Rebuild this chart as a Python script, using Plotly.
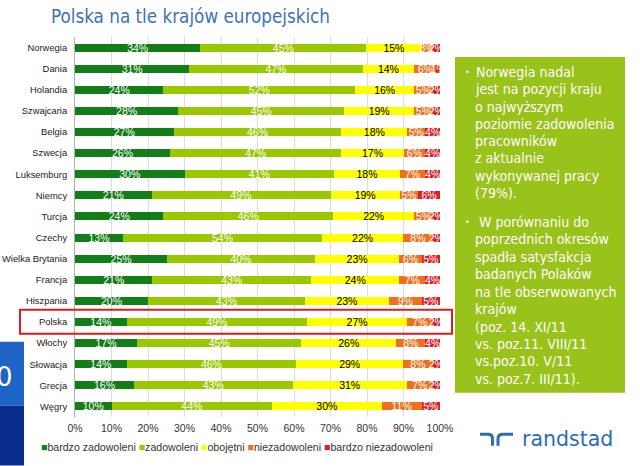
import plotly.graph_objects as go

countries = ["Norwegia", "Dania", "Holandia", "Szwajcaria", "Belgia", "Szwecja",
             "Luksemburg", "Niemcy", "Turcja", "Czechy", "Wielka Brytania", "Francja",
             "Hiszpania", "Polska", "Włochy", "Słowacja", "Grecja", "Węgry"]
bardzo_zadowoleni = [34, 31, 24, 28, 27, 26, 30, 21, 24, 13, 25, 21, 20, 14, 17, 14, 16, 10]
zadowoleni = [45, 47, 52, 45, 46, 47, 41, 49, 46, 54, 40, 43, 43, 49, 45, 46, 43, 44]
obojetni = [15, 14, 16, 19, 18, 17, 18, 19, 22, 22, 23, 24, 23, 27, 26, 29, 31, 30]
niezadowoleni = [3, 6, 5, 5, 5, 6, 7, 5, 5, 8, 6, 7, 9, 7, 8, 8, 7, 11]
bardzo_niezadowoleni = [2, 1, 2, 2, 4, 4, 4, 6, 2, 2, 5, 4, 5, 2, 4, 2, 2, 5]

series = [
    ("bardzo zadowoleni", bardzo_zadowoleni, "#137d17", "white"),
    ("zadowoleni", zadowoleni, "#99c800", "white"),
    ("obojętni", obojetni, "#ffff00", "black"),
    ("niezadowoleni", niezadowoleni, "#f0701e", "white"),
    ("bardzo niezadowoleni", bardzo_niezadowoleni, "#dc1e28", "white"),
]

W, H = 640, 466
L, R, T, B = 75, 440, 36.7, 417.3
SANS = "Liberation Sans, Arial"
COND = "DejaVu Sans Condensed, DejaVu Sans"

def px(x):
    return (x - L) / (R - L)

def py(y):
    return (B - y) / (B - T)

fig = go.Figure()
for name, vals, color, tcol in series:
    fig.add_trace(go.Bar(
        y=countries, x=vals, name=name, orientation="h",
        marker=dict(color=color, line=dict(width=0)),
        text=[f"{v}%" for v in vals], textposition="inside",
        insidetextanchor="middle", textangle=0,
        insidetextfont=dict(color=tcol, size=10.5, family=SANS),
        showlegend=False,
    ))

fig.update_layout(
    barmode="stack", barnorm="percent", bargap=0.62,
    width=W, height=H,
    margin=dict(l=L, r=W - R, t=T, b=H - B, pad=0),
    paper_bgcolor="white", plot_bgcolor="white",
    uniformtext=dict(minsize=10.5, mode="show"),
    font=dict(family=SANS, size=10, color="#222"),
)
fig.update_xaxes(range=[0, 100], tickvals=list(range(0, 101, 10)),
                 ticktext=[f"{v}%" for v in range(0, 101, 10)],
                 showgrid=True, gridcolor="#dcdcdc", gridwidth=1,
                 zeroline=False, showline=False, ticks="", automargin=False,
                 ticklabelstandoff=3,
                 tickfont=dict(size=10.5, color="#333", family=SANS))
fig.update_yaxes(autorange="reversed", showgrid=False, showline=True,
                 linecolor="#b0b0b0", linewidth=1, ticks="", ticklabelstandoff=5,
                 automargin=False,
                 tickfont=dict(size=9.4, color="#222", family=SANS))

shapes = []
# left blue panel
shapes.append(dict(type="rect", xref="paper", yref="paper", x0=px(0), x1=px(24),
                   y0=py(406), y1=py(342), fillcolor="#1f63c6", line=dict(width=0), layer="above"))
shapes.append(dict(type="rect", xref="paper", yref="paper", x0=px(0), x1=px(24),
                   y0=py(466), y1=py(406), fillcolor="#0a2c8e", line=dict(width=0), layer="above"))
# highlight Polska
shapes.append(dict(type="rect", xref="paper", yref="paper", x0=px(20), x1=px(452),
                   y0=py(334), y1=py(310), fillcolor="rgba(0,0,0,0)",
                   line=dict(color="#d42020", width=2), layer="above"))
# green text box
shapes.append(dict(type="rect", xref="paper", yref="paper", x0=px(455), x1=px(625),
                   y0=py(393), y1=py(56.7), fillcolor="#99c21a", line=dict(width=0), layer="above"))
# randstad logo symbol
shapes.append(dict(type="path", xref="paper", yref="paper",
                   path=f"M{px(480)},{py(434.5)} L{px(488)},{py(434.5)} Q{px(492.5)},{py(434.5)} {px(492.5)},{py(439)} L{px(492.5)},{py(446)}",
                   line=dict(color="#2a6db3", width=3), layer="above"))
shapes.append(dict(type="path", xref="paper", yref="paper",
                   path=f"M{px(513)},{py(434.5)} L{px(503)},{py(434.5)} Q{px(498)},{py(434.5)} {px(498)},{py(439)} L{px(498)},{py(446)}",
                   line=dict(color="#2a6db3", width=3), layer="above"))
fig.update_layout(shapes=shapes)

ann = []
ann.append(dict(text="Polska na tle krajów europejskich", xref="paper", yref="paper",
                x=px(49), y=py(16), xanchor="left", yanchor="middle", showarrow=False,
                font=dict(family=COND, size=18.7, color="#3d72b8")))
ann.append(dict(text="0", xref="paper", yref="paper", x=px(15), y=py(377),
                xanchor="right", yanchor="middle", showarrow=False,
                font=dict(family="DejaVu Sans", size=26, color="white")))
ann.append(dict(text="randstad", xref="paper", yref="paper", x=px(520), y=py(439),
                xanchor="left", yanchor="middle", showarrow=False,
                font=dict(family="DejaVu Sans", size=20.5, color="#2a6db3")))

legend_items = [(n, c) for n, _, c, _ in series]
leg = " ".join(f"<span style='color:{c}'>■</span>{n}" for n, c in legend_items)
ann.append(dict(text=leg, xref="paper", yref="paper", x=px(39), y=py(447),
                xanchor="left", yanchor="middle", showarrow=False,
                font=dict(family=SANS, size=10.6, color="#333")))

box1 = ["• Norwegia nadal", "  jest na pozycji kraju", "  o najwyższym", "  poziomie zadowolenia",
        "  pracowników", "  z aktualnie", "  wykonywanej pracy", "  (79%)."]
box2 = ["•  W porównaniu do", "  poprzednich okresów", "  spadła satysfakcja", "  badanych Polaków",
        "  na tle obserwowanych", "  krajów", "  (poz. 14. XI/11", "  vs. poz.11. VIII/11",
        "  vs.poz.10. V/11", "  vs. poz.7. III/11)."]

def add_lines(lines, y0, step):
    for i, line in enumerate(lines):
        y = py(y0 + i * step)
        if line.startswith("•"):
            ann.append(dict(text="•", xref="paper", yref="paper", x=px(467.5), y=y,
                            xanchor="center", yanchor="middle", showarrow=False,
                            font=dict(family=COND, size=9, color="white")))
            txt = line.lstrip("• ")
            x0 = 474 if not line.startswith("•  ") else 477
        else:
            txt = line.strip()
            x0 = 473
        ann.append(dict(text=txt, xref="paper", yref="paper", x=px(x0), y=y,
                        xanchor="left", yanchor="middle", showarrow=False,
                        font=dict(family=COND, size=14, color="white")))

add_lines(box1, 71.7, 17.33)
add_lines(box2, 221.7, 17.5)
fig.update_layout(annotations=ann)

fig.write_html("out.html", config={"displayModeBar": False},
               post_script="document.body.style.margin='0px';")
